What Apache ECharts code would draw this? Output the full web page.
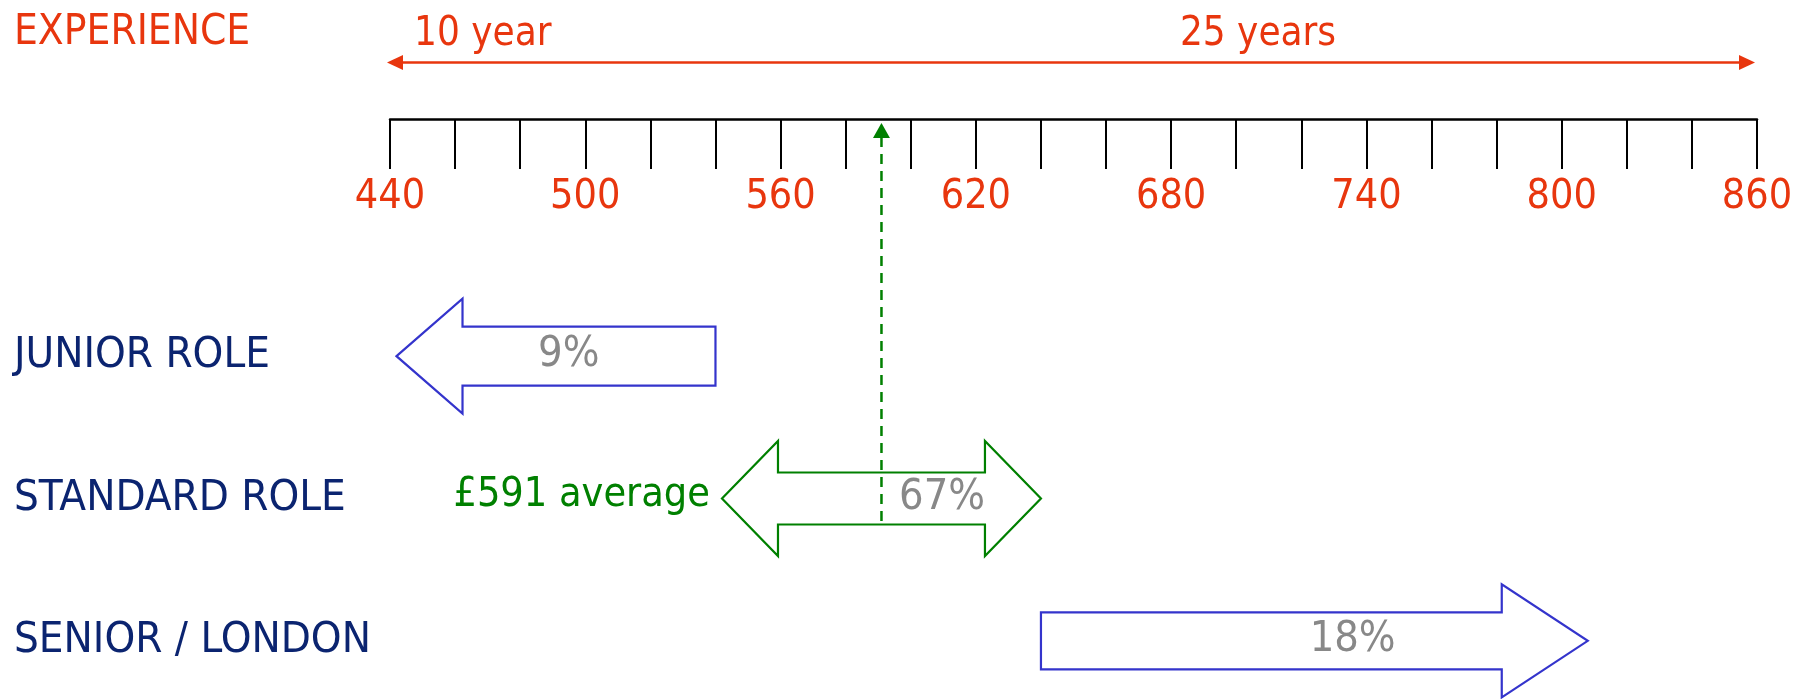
<!DOCTYPE html>
<html>
<head>
<meta charset="utf-8">
<script src="https://cdn.jsdelivr.net/npm/echarts@6/dist/echarts.min.js"></script>
<style>
  html, body { margin: 0; padding: 0; background: #ffffff; }
  #chart { width: 1795px; height: 699px; }
</style>
</head>
<body>
<div id="chart"></div>
<script>
// Weekly rate scale (£) and the three role bands placed on it
const scaleMin = 440;
const scaleMax = 860;
const scaleStep = 60;
const roles = ['JUNIOR ROLE', 'STANDARD ROLE', 'SENIOR / LONDON'];
const bandFrom = [442, 542, 640];          // rate where each band starts (£)
const bandTo = [540, 640, 808];            // rate where each band ends (£)
const bandDirection = ['left', 'both', 'right'];
const bandShare = [9, 67, 18];             // share of roles in each band (%)
const averageRate = 591;
const averageRole = 'STANDARD ROLE';
const experienceLabels = ['10 year', '25 years'];
const scaleTitle = 'EXPERIENCE';

// Look and layout
const FONT = "'DejaVu Sans Condensed', 'DejaVu Sans', sans-serif";
const RED = '#E8360E';
const NAVY = '#0B2470';
const BLUE = '#3434CC';
const GREEN = '#008000';
const GREY = '#888888';
const AXIS_Y = 119;               // pixel row of the scale line
const GRID_LEFT = 390;
const GRID_RIGHT = 38;
const HEAD_LEN = [66, 56, 86];    // arrow head length (px)
const HEAD_HALF = [57.5, 57.5, 56.5];
const SHAFT_HALF = [29.5, 26, 28.5];
const BAND_COLOR = [BLUE, GREEN, BLUE];
const SHARE_POS = [0.54, 0.69, 0.57]; // where the % sits along each arrow

function arrowPoints(xL, xR, cy, kind, h, hh, sh) {
  if (kind === 'left') {
    return [[xL, cy], [xL + h, cy - hh], [xL + h, cy - sh], [xR, cy - sh],
            [xR, cy + sh], [xL + h, cy + sh], [xL + h, cy + hh]];
  }
  if (kind === 'right') {
    return [[xL, cy - sh], [xR - h, cy - sh], [xR - h, cy - hh], [xR, cy],
            [xR - h, cy + hh], [xR - h, cy + sh], [xL, cy + sh]];
  }
  return [[xL, cy], [xL + h, cy - hh], [xL + h, cy - sh], [xR - h, cy - sh],
          [xR - h, cy - hh], [xR, cy], [xR - h, cy + hh], [xR - h, cy + sh],
          [xL + h, cy + sh], [xL + h, cy + hh]];
}

const bandData = roles.map((r, i) => [bandFrom[i], bandTo[i], i, bandShare[i]]);
const averageRow = roles.indexOf(averageRole);

const chart = echarts.init(document.getElementById('chart'), null, { renderer: 'canvas' });

chart.setOption({
  animation: false,
  backgroundColor: '#ffffff',
  grid: [
    { left: GRID_LEFT, right: GRID_RIGHT, top: AXIS_Y, height: 100, outerBoundsMode: 'none' },
    { left: GRID_LEFT, right: GRID_RIGHT, top: 285, height: 427, outerBoundsMode: 'none' }
  ],
  xAxis: [
    {
      gridIndex: 0, type: 'value', position: 'top',
      min: scaleMin, max: scaleMax, interval: scaleStep,
      axisLine: { show: true, onZero: false, lineStyle: { color: '#000', width: 2.5 } },
      axisTick: { show: true, inside: true, length: 50, lineStyle: { color: '#000', width: 2 } },
      minorTick: { show: true, splitNumber: 3, length: 50, lineStyle: { color: '#000', width: 2 } },
      splitLine: { show: false },
      minorSplitLine: { show: false },
      axisLabel: {
        show: true, inside: true, margin: 78, verticalAlign: 'middle',
        color: RED, fontSize: 41, fontFamily: FONT
      }
    },
    { gridIndex: 1, type: 'value', min: scaleMin, max: scaleMax, show: false }
  ],
  yAxis: [
    { gridIndex: 0, type: 'value', min: 0, max: 1, show: false },
    {
      gridIndex: 1, type: 'category', data: roles, inverse: true,
      axisLine: { show: false }, axisTick: { show: false }, splitLine: { show: false },
      axisLabel: { align: 'left', margin: GRID_LEFT - 14, color: NAVY, fontSize: 43.5, fontFamily: FONT }
    }
  ],
  graphic: [
    { type: 'text', left: 14, top: 12, style: { text: scaleTitle, fill: RED, fontSize: 42, fontFamily: FONT } },
    { type: 'text', x: 414, y: 35, style: { text: experienceLabels[0], fill: RED, fontSize: 40, fontFamily: FONT, align: 'left', verticalAlign: 'middle' } },
    { type: 'text', x: 1258, y: 35, style: { text: experienceLabels[1], fill: RED, fontSize: 40, fontFamily: FONT, align: 'center', verticalAlign: 'middle' } }
  ],
  series: [
    {
      // experience span drawn along the whole rate scale
      type: 'custom', xAxisIndex: 0, yAxisIndex: 0, silent: true,
      data: [[scaleMin, scaleMax]],
      renderItem: function (params, api) {
        const x1 = api.coord([api.value(0), 0])[0] - 3;
        const x2 = api.coord([api.value(1), 0])[0] - 2;
        const y = AXIS_Y - 56.5;
        return {
          type: 'group',
          children: [
            { type: 'line', shape: { x1: x1 + 12, y1: y, x2: x2 - 12, y2: y }, style: { stroke: RED, lineWidth: 2.5 } },
            { type: 'polygon', shape: { points: [[x1, y], [x1 + 16, y - 7.5], [x1 + 16, y + 7.5]] }, style: { fill: RED } },
            { type: 'polygon', shape: { points: [[x2, y], [x2 - 16, y - 7.5], [x2 - 16, y + 7.5]] }, style: { fill: RED } }
          ]
        };
      }
    },
    {
      // role bands as block arrows with their share
      type: 'custom', xAxisIndex: 1, yAxisIndex: 1, silent: true,
      data: bandData,
      encode: { x: [0, 1], y: 2 },
      renderItem: function (params, api) {
        const i = api.value(2);
        const a = api.coord([api.value(0), i]);
        const b = api.coord([api.value(1), i]);
        const cy = a[1];
        const pts = arrowPoints(a[0], b[0], cy, bandDirection[i], HEAD_LEN[i], HEAD_HALF[i], SHAFT_HALF[i]);
        const children = [
          { type: 'polygon', shape: { points: pts }, style: { fill: '#ffffff', stroke: BAND_COLOR[i], lineWidth: 2.2, lineJoin: 'miter' } },
          {
            type: 'text', x: a[0] + (b[0] - a[0]) * SHARE_POS[i], y: cy - 1,
            style: { text: api.value(3) + '%', fill: GREY, fontSize: 43, fontFamily: FONT, align: 'center', verticalAlign: 'middle' }
          }
        ];
        if (i === averageRow) {
          children.push({
            type: 'text', x: a[0] - 12, y: cy - 3,
            style: { text: '£' + averageRate + ' average', fill: GREEN, fontSize: 41, fontFamily: FONT, align: 'right', verticalAlign: 'middle' }
          });
        }
        return { type: 'group', children: children };
      }
    },
    {
      // average rate marker reaching up to the scale
      type: 'custom', xAxisIndex: 1, yAxisIndex: 1, silent: true, z: 5,
      data: [[averageRate, averageRow]],
      renderItem: function (params, api) {
        const row = api.value(1);
        const p = api.coord([api.value(0), row]);
        const x = p[0];
        const bottom = p[1] + SHAFT_HALF[row];
        const top = AXIS_Y + 4;
        return {
          type: 'group',
          children: [
            { type: 'line', shape: { x1: x, y1: top + 14, x2: x, y2: bottom }, style: { stroke: GREEN, lineWidth: 2.5, lineDash: [10, 7] } },
            { type: 'polygon', shape: { points: [[x, top], [x - 8.5, top + 15], [x + 8.5, top + 15]] }, style: { fill: GREEN } }
          ]
        };
      }
    }
  ]
});
</script>
</body>
</html>
